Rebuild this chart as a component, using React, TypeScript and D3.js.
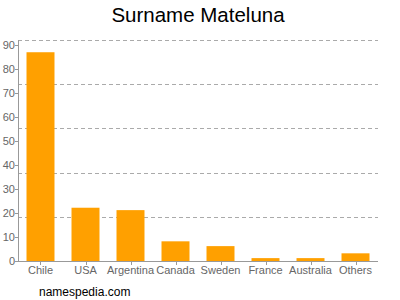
import React from "react";
import * as d3 from "d3";

const categories = ["Chile", "USA", "Argentina", "Canada", "Sweden", "France", "Australia", "Others"];
const values = [87, 22.2, 21.2, 8.2, 6.2, 1.2, 1.2, 3.2];
const yTicks = [0, 10, 20, 30, 40, 50, 60, 70, 80, 90];
const gridValues = [18.42, 36.84, 55.26, 73.68, 92.1];

const W = 400, H = 300;
const left = 18, right = 378, top = 40, bottom = 261;

export default function App() {
  const x = d3.scaleBand<string>().domain(categories).range([left, right]).paddingInner(0.378).paddingOuter(0.189);
  const y = d3.scaleLinear().domain([0, 92.1]).range([bottom, top]);
  const font = "Arial, 'Liberation Sans', Helvetica, sans-serif";
  return (
    <svg width={W} height={H} style={{ position: "absolute", left: 0, top: 0 }} fontFamily={font}>
      <rect width={W} height={H} fill="#fff" />
      <text x={198} y={22} textAnchor="middle" fontSize={20.5} fill="#000">Surname Mateluna</text>
      {gridValues.map((g, i) => (
        <line key={i} x1={left} x2={right} y1={Math.round(y(g)) + 0.5} y2={Math.round(y(g)) + 0.5} stroke="#aaa" strokeDasharray="4,3" />
      ))}
      {categories.map((c, i) => (
        <rect key={c} x={x(c)} y={y(values[i])} width={x.bandwidth()} height={bottom - y(values[i])} fill="#ffa000" />
      ))}
      <line x1={left + 0.5} x2={left + 0.5} y1={top} y2={bottom} stroke="#999" />
      <line x1={left} x2={right} y1={bottom + 0.5} y2={bottom + 0.5} stroke="#999" />
      {yTicks.map((t) => (
        <g key={t}>
          <line x1={left - 3} x2={left} y1={Math.round(y(t)) + 0.5} y2={Math.round(y(t)) + 0.5} stroke="#999" />
          <text x={left - 3} y={y(t) + 4} textAnchor="end" fontSize={11} fill="#666">{t}</text>
        </g>
      ))}
      {categories.map((c) => {
        const cx = (x(c) as number) + x.bandwidth() / 2;
        return (
          <g key={c}>
            <line x1={Math.round(cx) + 0.5} x2={Math.round(cx) + 0.5} y1={bottom} y2={bottom + 4} stroke="#999" />
            <text x={cx} y={274} textAnchor="middle" fontSize={11} fill="#666">{c}</text>
          </g>
        );
      })}
      <text x={39} y={296} fontSize={12} fill="#000">namespedia.com</text>
    </svg>
  );
}
